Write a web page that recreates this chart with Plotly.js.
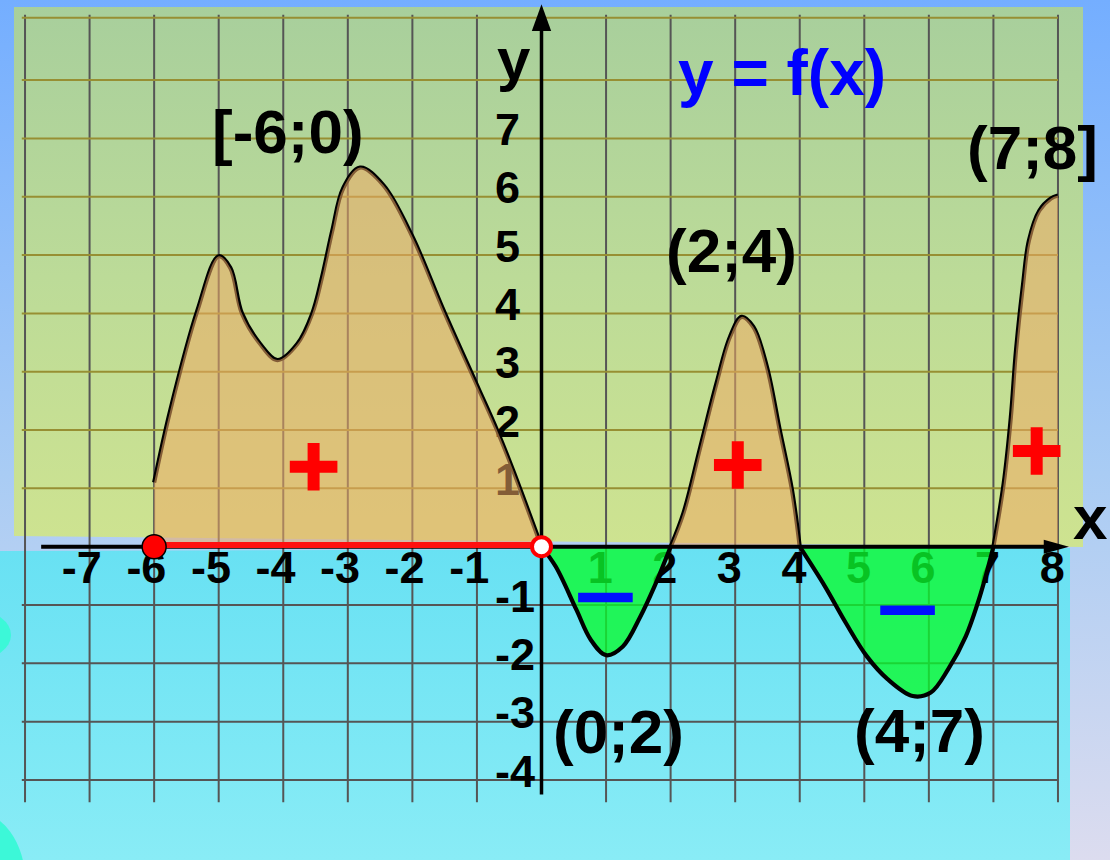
<!DOCTYPE html>
<html>
<head>
<meta charset="utf-8">
<script src="https://cdn.plot.ly/plotly-3.0.1.min.js"></script>
<style>
  html, body { margin: 0; padding: 0; background: #7fb4fb; }
  #chart { width: 1110px; height: 860px; }
</style>
</head>
<body>
<div id="chart"></div>
<script>
// y = f(x) (zero crossings kept as exact points)
const curveX = [-6, -5.75, -5.33, -5.0, -4.82, -4.64, -4.36, -4.09, -3.78, -3.55, -3.4, -3.24, -3.07, -2.81, -2.45, -2.01, -1.52, -1.0, -0.69, -0.44, 0,
                0.22, 0.54, 0.76, 1.0, 1.26, 1.53, 1.75, 2,
                2.2, 2.46, 2.71, 2.92, 3.1, 3.28, 3.49, 3.69, 3.88, 4,
                4.39, 4.71, 5.04, 5.36, 5.75, 6.03, 6.3, 6.57, 6.79, 7,
                7.16, 7.27, 7.35, 7.46, 7.55, 7.71, 7.89, 8];
const curveY = [1.1, 2.34, 4.05, 4.98, 4.78, 4.0, 3.48, 3.2, 3.48, 4.0, 4.62, 5.42, 6.15, 6.5, 6.2, 5.34, 4.06, 2.77, 2.0, 1.31, 0,
                -0.34, -1.08, -1.59, -1.86, -1.71, -1.2, -0.68, 0,
                0.58, 1.71, 2.8, 3.6, 3.94, 3.77, 3.09, 2.0, 0.97, 0,
                -0.68, -1.3, -1.88, -2.27, -2.56, -2.5, -2.1, -1.54, -0.85, 0,
                1.09, 2.22, 3.37, 4.51, 5.25, 5.76, 5.97, 6.02];

// axes and grid
const xTicks = [-7, -6, -5, -4, -3, -2, -1, 1, 2, 3, 4, 5, 6, 7, 8];
const yTicks = [-4, -3, -2, -1, 1, 2, 3, 4, 5, 6, 7];
const gridX = [-8, -7, -6, -5, -4, -3, -2, -1, 1, 2, 3, 4, 5, 6, 7, 8];
const gridYUpper = [1, 2, 3, 4, 5, 6, 7, 8, 9.07];
const gridYLower = [-1, -2, -3, -4];

// interval on the x axis: closed end, open end
const interval = [-6, 0];

// sign marks
const plusX = [-3.53, 3.04, 7.67];
const plusY = [1.37, 1.4, 1.64];
const minusX = [0.99, 5.67];
const minusY = [-0.87, -1.09];

// interval labels
const labelText = ['[-6;0)', '(2;4)', '(7;8]', '(0;2)', '(4;7)'];
const labelX = [-3.93, 2.94, 7.6, 1.19, 5.86];
const labelY = [7.12, 5.07, 6.85, -3.16, -3.15];

// --- pixel <-> data (plot area covers the whole picture) ---
const X0 = 541.5, SX = 64.56, Y0 = 546.7, SY = 58.33;
const px = p => (p - X0) / SX;
const py = p => (Y0 - p) / SY;

const FONT = 'Liberation Sans, Arial, sans-serif';

function bgTrace(pts, colorscale) {
  return {
    x: pts.map(p => px(p[0])), y: pts.map(p => py(p[1])),
    mode: 'lines', line: {width: 0}, fill: 'toself',
    fillgradient: {type: 'vertical', colorscale: colorscale},
    hoverinfo: 'skip'
  };
}

function lineSegs(vals, a, b, vertical) {
  const xs = [], ys = [];
  vals.forEach(v => {
    if (vertical) { xs.push(v, v, null); ys.push(a, b, null); }
    else { xs.push(a, b, null); ys.push(v, v, null); }
  });
  return {x: xs, y: ys};
}

const traces = [];

// backgrounds
traces.push(bgTrace([[0, 0], [1110, 0], [1110, 860], [0, 860]],
  [[0, '#dcdcef'], [0.45, '#a9ccf4'], [1, '#74aeff']]));
traces.push(bgTrace([[14, 7], [1083, 7], [1083, 547], [14, 536]],
  [[0, '#cee390'], [0.5, '#bcdb98'], [1, '#a8cf9c']]));
traces.push(bgTrace([[0, 551], [1070, 548], [1070, 860], [0, 860]],
  [[0, '#89ecf6'], [1, '#68e1f3']]));

// grid
const gv = lineSegs(gridX, -4.38, 9.12, true);
traces.push({x: gv.x, y: gv.y, mode: 'lines', line: {color: '#555555', width: 2}, hoverinfo: 'skip'});
const gu = lineSegs(gridYUpper, -8.05, 8.0, false);
traces.push({x: gu.x, y: gu.y, mode: 'lines', line: {color: '#978f33', width: 2}, hoverinfo: 'skip'});
const gl = lineSegs(gridYLower, -8.05, 8.0, false);
traces.push({x: gl.x, y: gl.y, mode: 'lines', line: {color: '#555555', width: 2}, hoverinfo: 'skip'});

// tick labels (under the fills, as in the picture)
const tickFont = {family: FONT, size: 45, color: 'black', weight: 700};
traces.push({
  x: xTicks.map(v => v - (v < 0 ? 0.12 : 0.09)), y: xTicks.map(() => -0.43),
  text: xTicks.map(String), mode: 'text', textposition: 'middle center',
  textfont: tickFont, hoverinfo: 'skip'
});
traces.push({
  x: yTicks.map(() => -0.72), y: yTicks.map(v => v + 0.08),
  text: yTicks.map(String), mode: 'text', textposition: 'middle right',
  textfont: tickFont, hoverinfo: 'skip'
});

// split the curve at its zeros
const cuts = [0];
curveY.forEach((v, i) => { if (v === 0) cuts.push(i); });
cuts.push(curveY.length - 1);
const pieces = [];
for (let k = 0; k < cuts.length - 1; k++) {
  const xs = curveX.slice(cuts[k], cuts[k + 1] + 1);
  const ys = curveY.slice(cuts[k], cuts[k + 1] + 1);
  const s = ys.reduce((a, b) => a + b, 0);
  pieces.push({x: xs, y: ys, pos: s > 0});
}

// negative parts: green, under the curve
pieces.filter(p => !p.pos).forEach(p => traces.push({
  x: p.x, y: p.y, mode: 'lines', line: {width: 0, shape: 'spline'},
  fill: 'tozeroy', fillcolor: 'rgba(10,250,45,0.78)', hoverinfo: 'skip'
}));

// the curve, one spline per piece so it meets the axis like the fills do
pieces.forEach(p => traces.push({
  x: p.x, y: p.y, mode: 'lines',
  line: {color: 'black', width: 4.2, shape: 'spline'}, hoverinfo: 'skip'
}));

// positive parts: orange, over the curve
pieces.filter(p => p.pos).forEach(p => traces.push({
  x: p.x, y: p.y, mode: 'lines', line: {width: 0, shape: 'spline'},
  fill: 'tozeroy', fillcolor: 'rgba(238,170,100,0.55)', hoverinfo: 'skip'
}));

// axes with arrow heads
const xAxisEnd = [-7.75, 7.9], yAxisEnd = [-4.25, 8.9];
traces.push({x: xAxisEnd, y: [0, 0], mode: 'lines', line: {color: 'black', width: 4}, hoverinfo: 'skip'});
traces.push({x: [0, 0], y: yAxisEnd, mode: 'lines', line: {color: 'black', width: 3.5}, hoverinfo: 'skip'});
traces.push({
  x: [xAxisEnd[1] - 0.12, xAxisEnd[1] + 0.27, xAxisEnd[1] - 0.12],
  y: [0.12, 0, -0.12], mode: 'lines', line: {width: 0},
  fill: 'toself', fillcolor: 'black', hoverinfo: 'skip'
});
traces.push({
  x: [-0.15, 0, 0.15], y: [yAxisEnd[1] - 0.06, yAxisEnd[1] + 0.4, yAxisEnd[1] - 0.06],
  mode: 'lines', line: {width: 0}, fill: 'toself', fillcolor: 'black', hoverinfo: 'skip'
});

// interval [-6;0)
traces.push({x: interval, y: [0.03, 0.03], mode: 'lines', line: {color: '#ff1010', width: 6}, hoverinfo: 'skip'});
traces.push({
  x: [interval[0]], y: [0], mode: 'markers',
  marker: {symbol: 'circle', size: 24, color: '#ff0000', line: {color: 'black', width: 1.5}}, hoverinfo: 'skip'
});
traces.push({
  x: [interval[1]], y: [0], mode: 'markers',
  marker: {symbol: 'circle', size: 19, color: 'white', line: {color: '#ff0000', width: 4}}, hoverinfo: 'skip'
});

// signs
traces.push({
  x: plusX, y: plusY, mode: 'markers',
  marker: {symbol: 'cross-thin', size: 34, color: '#ff0000', line: {color: '#ff0000', width: 12}}, hoverinfo: 'skip'
});
traces.push({
  x: minusX, y: minusY, mode: 'markers',
  marker: {symbol: 'line-ew', size: 39, color: '#0010ff', line: {color: '#0010ff', width: 9.5}}, hoverinfo: 'skip'
});

const annotations = labelText.map((t, i) => ({
  x: labelX[i], y: labelY[i], text: t, showarrow: false,
  font: {family: FONT, size: 62, color: 'black', weight: 700}
}));
annotations.push({x: 3.725, y: 8.12, text: 'y = f(x)', showarrow: false,
  font: {family: FONT, size: 64, color: '#0000ff', weight: 700}});
annotations.push({x: -0.43, y: 8.36, text: 'y', showarrow: false,
  font: {family: FONT, size: 60, color: 'black', weight: 700}});
annotations.push({x: 8.5, y: 0.5, text: 'x', showarrow: false,
  font: {family: FONT, size: 62, color: 'black', weight: 700}});

const layout = {
  width: 1110, height: 860, autosize: false,
  margin: {l: 0, r: 0, t: 0, b: 0, pad: 0},
  paper_bgcolor: '#7fb4fb', plot_bgcolor: 'rgba(0,0,0,0)',
  showlegend: false, hovermode: false,
  xaxis: {range: [px(0), px(1110)], visible: false, fixedrange: true},
  yaxis: {range: [py(860), py(0)], visible: false, fixedrange: true},
  annotations: annotations,
  shapes: [
    {type: 'circle', xref: 'x', yref: 'y', layer: 'above', line: {width: 0}, fillcolor: '#3cf8d8',
     x0: px(-55), x1: px(11), y0: py(611), y1: py(659)},
    {type: 'circle', xref: 'x', yref: 'y', layer: 'above', line: {width: 0}, fillcolor: '#3cf8d8',
     x0: px(-75), x1: px(25), y0: py(812), y1: py(948)}
  ]
};

Plotly.newPlot('chart', traces, layout, {displayModeBar: false, staticPlot: true});
</script>
</body>
</html>
